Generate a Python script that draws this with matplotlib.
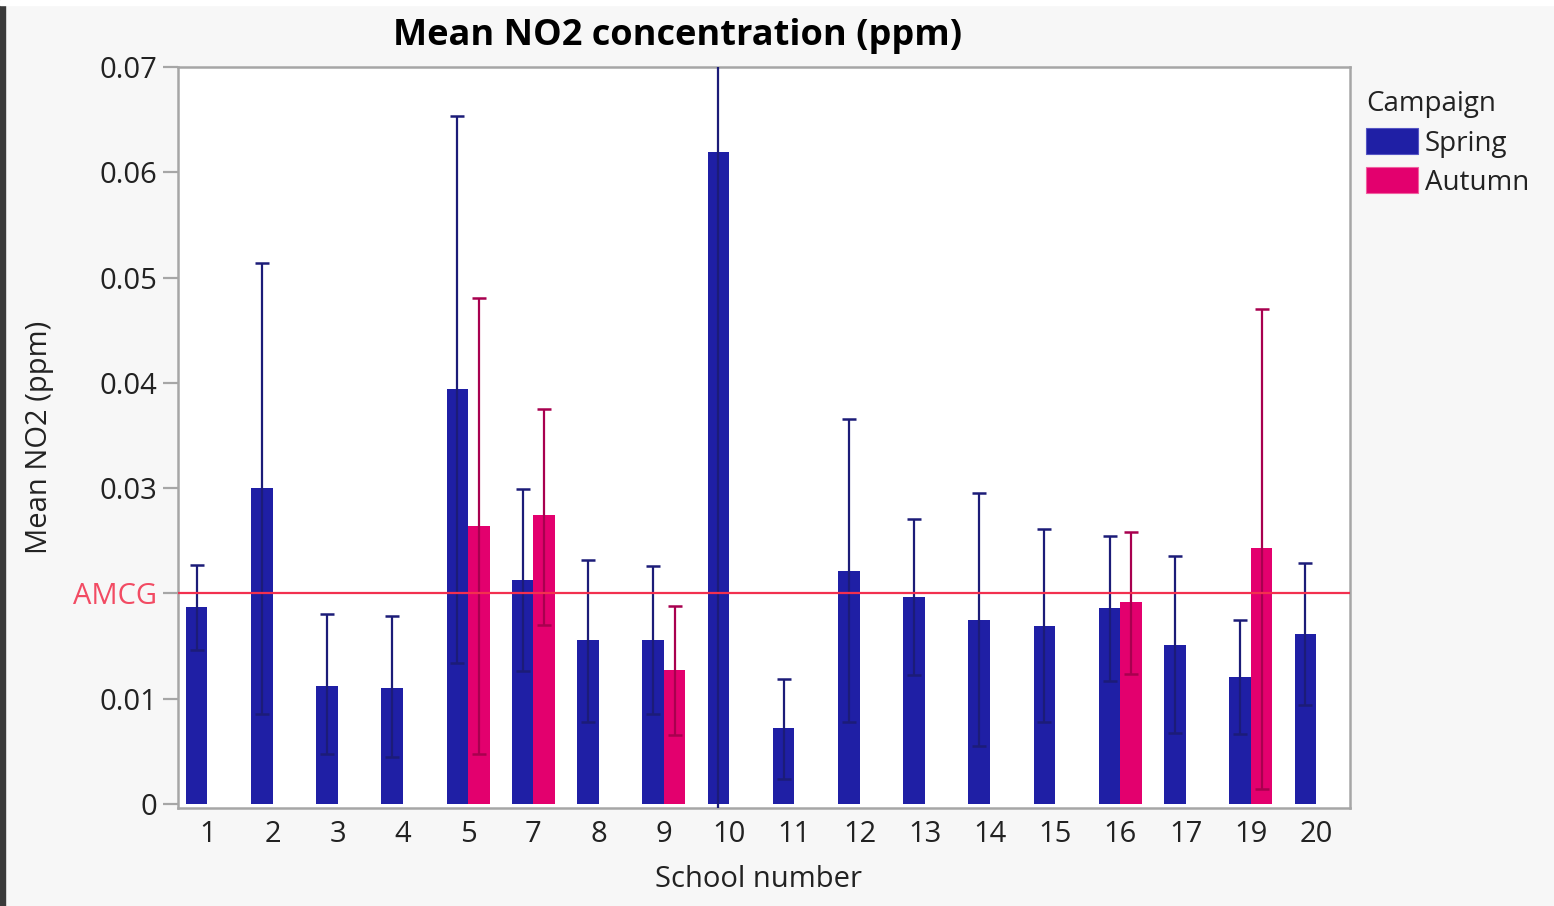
import matplotlib
matplotlib.use("Agg")
import matplotlib.pyplot as plt
from matplotlib.patches import Rectangle, Patch
import numpy as np

plt.rcParams['font.family'] = ['Open Sans', 'DejaVu Sans']

schools = ["1", "2", "3", "4", "5", "7", "8", "9", "10", "11", "12", "13", "14", "15", "16", "17", "19", "20"]
spring_mean = [0.0187, 0.0300, 0.0112, 0.0110, 0.0394, 0.0213, 0.0156, 0.0156, 0.0619, 0.0072,
               0.0221, 0.0196, 0.0175, 0.0169, 0.0186, 0.0151, 0.0120, 0.0161]
spring_upper = [0.0227, 0.0514, 0.0180, 0.0178, 0.0653, 0.0299, 0.0232, 0.0226, 0.0740, 0.0119,
                0.0366, 0.0271, 0.0295, 0.0261, 0.0254, 0.0235, 0.0175, 0.0229]
spring_lower = [0.0146, 0.0085, 0.0047, 0.0044, 0.0134, 0.0126, 0.0078, 0.0085, -0.0030, 0.0024,
                0.0078, 0.0122, 0.0055, 0.0078, 0.0117, 0.0067, 0.0066, 0.0094]
nan = np.nan
autumn_mean = [nan, nan, nan, nan, 0.0264, 0.0274, nan, 0.0127, nan, nan,
               nan, nan, nan, nan, 0.0192, nan, 0.0243, nan]
autumn_upper = [nan, nan, nan, nan, 0.0481, 0.0375, nan, 0.0188, nan, nan,
                nan, nan, nan, nan, 0.0258, nan, 0.0470, nan]
autumn_lower = [nan, nan, nan, nan, 0.0047, 0.0170, nan, 0.0065, nan, nan,
                nan, nan, nan, nan, 0.0123, nan, 0.0014, nan]
amcg = 0.02
yticks = [0, 0.01, 0.02, 0.03, 0.04, 0.05, 0.06, 0.07]
ytick_labels = ["0", "0.01", "AMCG", "0.03", "0.04", "0.05", "0.06", "0.07"]

SPRING = "#1f1fa5"
AUTUMN = "#e3006e"
SPRING_ERR = "#1c1c78"
AUTUMN_ERR = "#a8004f"
AMCG_LINE = "#f2304f"
AMCG_TEXT = "#f24b63"
GRID = "#a6a6a6"
BG = "#f7f7f7"
FS = 21

fig = plt.figure(figsize=(15.54, 9.06), dpi=100, facecolor=BG)
fig.patches.append(Rectangle((0, 0), 5 / 1554, 1, transform=fig.transFigure, color="#3a3a3a", zorder=-1))
fig.patches.append(Rectangle((0, 1 - 5 / 906), 1, 5 / 906, transform=fig.transFigure, color="white", zorder=-1))

ax = fig.add_axes([178 / 1554, 1 - 808 / 906, (1350 - 178) / 1554, (808 - 67) / 906])
ax.set_facecolor("white")

x = np.arange(len(schools))
w = 0.33
sm = np.array(spring_mean)
am = np.array(autumn_mean)

ax.bar(x - w / 2, sm, width=w, color=SPRING, zorder=2)
ax.bar(x + w / 2, am, width=w, color=AUTUMN, zorder=2)

err_s = [sm - np.array(spring_lower), np.array(spring_upper) - sm]
ax.errorbar(x - w / 2, sm, yerr=err_s, fmt="none", ecolor=SPRING_ERR, elinewidth=1.6,
            capsize=4.8, capthick=1.8, zorder=3)
err_a = [am - np.array(autumn_lower), np.array(autumn_upper) - am]
ax.errorbar(x + w / 2, am, yerr=err_a, fmt="none", ecolor=AUTUMN_ERR, elinewidth=1.6,
            capsize=4.8, capthick=1.8, zorder=3)

ax.axhline(amcg, color=AMCG_LINE, lw=1.6, zorder=4)

ax.set_xlim(-0.45, len(schools) - 1 + 0.52)
ax.set_ylim(-0.0004, 0.07)
ax.set_xticks(x)
ax.set_xticklabels(schools)
ax.set_yticks(yticks)
ax.set_yticklabels(ytick_labels)

for s in ax.spines.values():
    s.set_color(GRID)
    s.set_linewidth(1.8)

ax.tick_params(axis="y", length=11, width=1.6, color=GRID, labelsize=FS, labelcolor="#222222", pad=4)
ax.tick_params(axis="x", length=0, labelsize=FS, labelcolor="#222222", pad=9)
t = ax.yaxis.get_major_ticks()[2]
t.tick1line.set_color(AMCG_LINE)
t.label1.set_color(AMCG_TEXT)

fig.text(393 / 1554, 1 - 36 / 906, "Mean NO2 concentration (ppm)", fontsize=26, fontweight="bold",
         color="black", ha="left", va="center")
ax.set_xlabel("School number", fontsize=FS, color="#222222")
ax.xaxis.set_label_coords(0.495, -0.077)
ax.set_ylabel("Mean NO2 (ppm)", fontsize=FS, color="#222222", labelpad=14)

handles = [Patch(facecolor=SPRING, edgecolor="#5555c4", lw=0.8, label="Spring"),
           Patch(facecolor=AUTUMN, edgecolor="#f060a0", lw=0.8, label="Autumn")]
leg = fig.legend(handles=handles, title="Campaign", loc="upper left",
                 bbox_to_anchor=(1347 / 1554, 1 - 71 / 906), frameon=False,
                 fontsize=20, title_fontsize=20, handlelength=1.85, handleheight=1.05,
                 handletextpad=0.25, labelspacing=0.35, alignment="left", borderpad=0.2)
for txt in leg.get_texts():
    txt.set_color("#222222")
leg.get_title().set_color("#222222")

fig.savefig("out.png", dpi=100, facecolor=BG)
